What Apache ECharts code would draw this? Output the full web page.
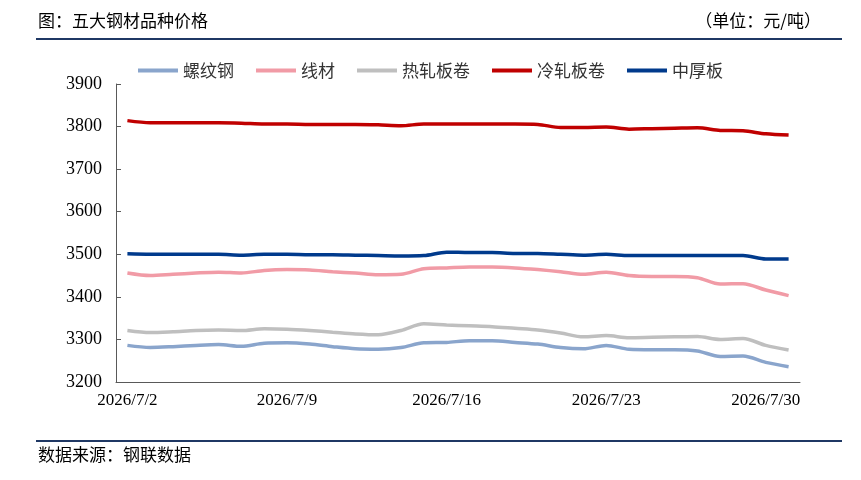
<!DOCTYPE html><html><head><meta charset="utf-8">
<script src="https://cdn.jsdelivr.net/npm/echarts@6/dist/echarts.min.js"></script>
<style>html,body{margin:0;padding:0;background:#fff}#c{width:861px;height:480px}</style></head><body><div id="c"></div>
<script>
const categories=[];for(let d=2;d<=31;d++)categories.push('2026/7/'+d);
const names=['螺纹钢','线材','热轧板卷','冷轧板卷','中厚板'];
const rebar=[3286,3281,3283,3286,3288,3284,3291,3292,3289,3283,3278,3277,3281,3292,3293,3297,3297,3293,3289,3281,3278,3286,3277,3276,3276,3273,3260,3261,3246,3236];
const wire=[3456,3450,3453,3456,3458,3456,3462,3464,3463,3459,3456,3452,3453,3466,3468,3470,3470,3468,3464,3459,3453,3458,3450,3448,3448,3445,3430,3431,3416,3403];
const hotRoll=[3321,3316,3318,3321,3322,3321,3325,3324,3321,3317,3313,3311,3321,3337,3334,3332,3330,3326,3322,3315,3306,3309,3304,3305,3306,3307,3300,3302,3286,3275];
const coldRoll=[3814,3809,3809,3809,3809,3808,3806,3806,3805,3805,3805,3804,3802,3806,3806,3806,3806,3806,3805,3798,3798,3799,3794,3795,3796,3797,3791,3790,3783,3780];
const plate=[3501,3500,3500,3500,3500,3498,3500,3500,3499,3499,3498,3497,3496,3497,3505,3504,3504,3502,3502,3500,3498,3500,3497,3497,3497,3497,3497,3497,3489,3489];
const colors=['#8aa5cc','#f19ba6','#bfbfbf','#c00000','#003a8c'];
const data=[rebar,wire,hotRoll,coldRoll,plate];
const serif='"Liberation Serif","Noto Sans CJK SC",serif';
const cjk='"Noto Sans CJK SC",serif';
const ch=echarts.init(document.getElementById('c'));
ch.setOption({
 animation:false,
 graphic:[
  {type:'text',left:38,top:12,style:{text:'图：五大钢材品种价格',font:'17px '+cjk,fill:'#000'}},
  {type:'text',right:40,top:12,style:{text:'（单位：元/吨）',font:'17px '+cjk,fill:'#000'}},
  {type:'rect',shape:{x:36,y:38,width:806,height:2},style:{fill:'#1f3864'}},
  {type:'rect',shape:{x:36,y:440,width:806,height:2},style:{fill:'#1f3864'}},
  {type:'text',left:38,top:446,style:{text:'数据来源：钢联数据',font:'17px '+cjk,fill:'#000'}}
 ],
 legend:{top:57,left:'center',itemWidth:40,itemHeight:4,itemGap:22,icon:'rect',textStyle:{fontFamily:cjk,fontSize:17,color:'#333'},data:names},
 grid:{left:116,right:61,top:84,bottom:98},
 xAxis:{type:'category',data:categories,boundaryGap:true,
  axisLine:{lineStyle:{color:'#595959'}},axisTick:{interval:6,length:5,inside:true,lineStyle:{color:'#595959'}},
  axisLabel:{interval:6,color:'#000',fontFamily:serif,fontSize:17,margin:10}},
 yAxis:{type:'value',min:3200,max:3900,interval:100,splitLine:{show:false},
  axisLine:{show:true,lineStyle:{color:'#595959'}},axisTick:{show:true,length:5,inside:true,lineStyle:{color:'#595959'}},
  axisLabel:{color:'#000',fontFamily:serif,fontSize:18,margin:14,formatter:v=>String(v)}},
 series:names.map((n,i)=>({name:n,type:'line',data:data[i],smooth:0.3,symbol:'none',
  lineStyle:{width:3.5,color:colors[i]},itemStyle:{color:colors[i]}}))
});
</script></body></html>
